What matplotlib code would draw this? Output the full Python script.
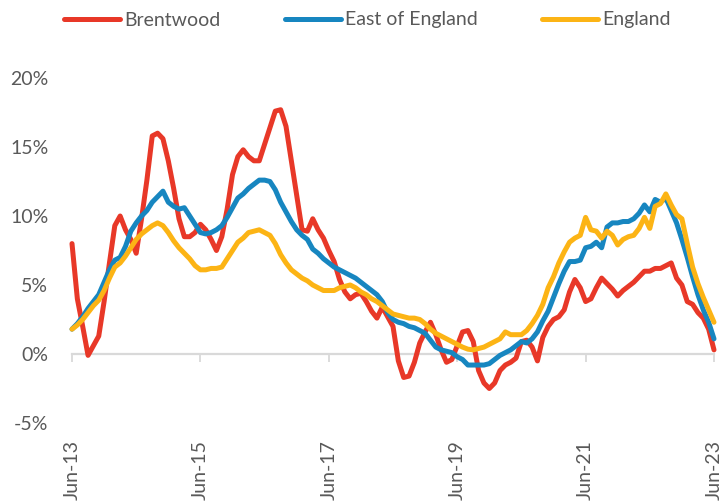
import matplotlib
matplotlib.use("Agg")
import matplotlib.pyplot as plt
import numpy as np

# ---- data (annual % change, monthly Jun-13 .. Jun-23) ----
brentwood = [8.0, 4.0, 2.0, -0.1, 0.6, 1.3, 3.8, 6.6, 9.3, 10.0,
             9.0, 8.3, 7.3, 9.8, 12.6, 15.8, 16.0, 15.6, 14.0, 12.0,
             9.8, 8.5, 8.5, 8.8, 9.4, 9.0, 8.3, 7.5, 8.5, 10.5,
             13.0, 14.3, 14.8, 14.3, 14.0, 14.0, 15.2, 16.4, 17.6, 17.7,
             16.5, 14.0, 11.5, 9.0, 8.9, 9.8, 9.0, 8.4, 7.5, 6.7,
             5.4, 4.5, 4.0, 4.3, 4.4, 3.8, 3.1, 2.6, 3.4, 2.7,
             2.0, -0.5, -1.7, -1.6, -0.6, 0.8, 1.6, 2.3, 1.4, 0.3,
             -0.6, -0.4, 0.6, 1.6, 1.7, 0.9, -1.2, -2.1, -2.5, -2.1,
             -1.2, -0.8, -0.6, -0.3, 0.9, 1.0, 0.5, -0.5, 1.2, 2.0,
             2.5, 2.7, 3.2, 4.5, 5.4, 4.8, 3.8, 4.0, 4.8, 5.5,
             5.1, 4.7, 4.2, 4.6, 4.9, 5.2, 5.6, 6.0, 6.0, 6.2,
             6.2, 6.4, 6.6, 5.5, 5.0, 3.8, 3.6, 3.0, 2.6, 1.8,
             0.3]

east_of_england = [1.8, 2.2, 2.7, 3.3, 3.8, 4.3, 5.2, 6.1, 6.8, 7.0,
                   7.8, 8.9, 9.5, 10.0, 10.4, 11.0, 11.4, 11.8, 11.0, 10.7,
                   10.5, 10.6, 10.0, 9.4, 8.8, 8.7, 8.8, 9.0, 9.3, 9.9,
                   10.6, 11.3, 11.6, 12.0, 12.3, 12.6, 12.6, 12.5, 11.9, 11.0,
                   10.3, 9.6, 9.0, 8.6, 8.3, 7.6, 7.3, 6.9, 6.6, 6.3,
                   6.1, 5.9, 5.7, 5.5, 5.2, 4.9, 4.6, 4.3, 3.8, 3.0,
                   2.5, 2.3, 2.2, 2.0, 1.9, 1.7, 1.5, 1.0, 0.5, 0.3,
                   0.2, 0.1, -0.2, -0.4, -0.8, -0.8, -0.8, -0.8, -0.7, -0.4,
                   -0.1, 0.1, 0.3, 0.6, 0.9, 0.8, 1.1, 1.6, 2.4, 3.1,
                   4.1, 5.1, 6.0, 6.7, 6.7, 6.8, 7.7, 7.8, 8.1, 7.7,
                   9.2, 9.5, 9.5, 9.6, 9.6, 9.8, 10.2, 10.8, 10.3, 11.2,
                   11.0, 11.3, 10.4, 9.5, 8.3, 7.0, 5.6, 4.3, 3.2, 2.3,
                   1.1]

england = [1.8, 2.1, 2.5, 3.0, 3.5, 3.9, 4.6, 5.5, 6.3, 6.6,
           7.1, 7.7, 8.3, 8.7, 9.0, 9.3, 9.5, 9.3, 8.8, 8.2,
           7.7, 7.3, 6.9, 6.4, 6.1, 6.1, 6.2, 6.2, 6.3, 6.9,
           7.5, 8.1, 8.4, 8.8, 8.9, 9.0, 8.8, 8.6, 8.0, 7.2,
           6.6, 6.1, 5.8, 5.5, 5.3, 5.0, 4.8, 4.6, 4.6, 4.6,
           4.8, 4.9, 5.0, 4.8, 4.5, 4.3, 4.0, 3.8, 3.5, 3.2,
           2.9, 2.8, 2.7, 2.6, 2.6, 2.5, 2.2, 1.8, 1.5, 1.3,
           1.1, 0.9, 0.7, 0.5, 0.35, 0.3, 0.4, 0.5, 0.7, 0.9,
           1.1, 1.6, 1.4, 1.4, 1.4, 1.7, 2.2, 2.8, 3.6, 4.8,
           5.6, 6.6, 7.4, 8.1, 8.4, 8.6, 9.9, 9.0, 8.9, 8.4,
           8.9, 8.6, 7.9, 8.3, 8.5, 8.6, 9.1, 9.9, 9.1, 10.7,
           10.9, 11.6, 10.8, 10.1, 9.8, 8.0, 6.3, 5.1, 4.1, 3.2,
           2.3]

tick_labels = ["Jun-13", "Jun-15", "Jun-17", "Jun-19", "Jun-21", "Jun-23"]
tick_step = 24  # months between labels
series_names = ["Brentwood", "East of England", "England"]

# ---- style ----
colors = ["#E83828", "#1786C0", "#FCB415"]
text_color = "#595959"
axis_color = "#D9D9D9"
plt.rcParams["font.family"] = ["Lato", "DejaVu Sans"]
fs = 14

W, H = 721, 504
fig = plt.figure(figsize=(W / 100, H / 100), dpi=100)
ax = fig.add_axes([72 / W, (H - 423) / H, (714 - 72) / W, (423 - 78) / H])

months = np.arange(len(brentwood))
handles = []
for vals, c, name in zip([brentwood, east_of_england, england], colors, series_names):
    h, = ax.plot(months, vals, color=c, lw=3.6, solid_joinstyle="round",
                 solid_capstyle="round", label=name, clip_on=False)
    handles.append(h)

ax.set_xlim(0, len(brentwood) - 1)
ax.set_ylim(-5, 20)
ax.set_yticks([-5, 0, 5, 10, 15, 20])
ax.set_yticklabels([f"{v}%" for v in [-5, 0, 5, 10, 15, 20]])
ax.tick_params(axis="y", length=0, pad=17, labelsize=fs, labelcolor=text_color)

for s in ["top", "right", "left"]:
    ax.spines[s].set_visible(False)
ax.spines["bottom"].set_position(("data", 0))
ax.spines["bottom"].set_color(axis_color)
ax.spines["bottom"].set_linewidth(1.6)
ax.spines["bottom"].set_zorder(0)

tick_pos = months[::tick_step]
ax.set_xticks(tick_pos)
ax.tick_params(axis="x", direction="out", length=5.8, width=1.3, color=axis_color,
               labelbottom=False)

sec = ax.secondary_xaxis("bottom")
sec.set_xticks(tick_pos)
sec.set_xticklabels(tick_labels, rotation=90)
sec.tick_params(length=0, pad=12, labelsize=fs, labelcolor=text_color)
sec.spines["bottom"].set_visible(False)

fig.legend(handles=handles, labels=series_names, loc="center left",
           bbox_to_anchor=(64 / W, 1 - 20 / H), ncol=3, frameon=False,
           fontsize=fs, labelcolor=text_color, handlelength=2.9,
           handletextpad=0.2, columnspacing=3.3, borderpad=0, borderaxespad=0)

fig.savefig("out.png", dpi=100)
